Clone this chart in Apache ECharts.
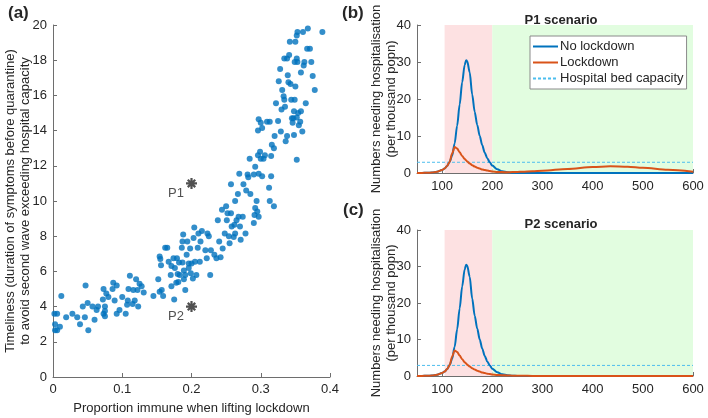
<!DOCTYPE html>
<html>
<head>
<meta charset="utf-8">
<script src="https://cdn.jsdelivr.net/npm/echarts@6.0.0/dist/echarts.min.js"></script>
<style>
  html, body { margin: 0; padding: 0; background: #fff; }
  #main { width: 708px; height: 418px; }
</style>
</head>
<body>
<div id="main"></div>
<script>
// panel (a): proportion immune vs timeliness
var immune = [
  0.002, 0.006, 0.003, 0.003, 0.006, 0.010, 0.012, 0.019, 0.028, 0.035, 0.039, 0.043, 0.046, 0.047, 0.050, 0.051, 0.057, 0.060, 0.063, 0.065,
  0.072, 0.073, 0.073, 0.075, 0.075, 0.075, 0.077, 0.080, 0.086, 0.087, 0.089, 0.092, 0.092, 0.096, 0.100, 0.105, 0.107, 0.109, 0.111, 0.108,
  0.115, 0.116, 0.118, 0.120, 0.122, 0.123, 0.125, 0.128, 0.131, 0.145,
  0.152, 0.154, 0.155, 0.156, 0.154, 0.157, 0.159, 0.162, 0.165, 0.167, 0.170, 0.171, 0.171, 0.174, 0.175, 0.176, 0.178, 0.179, 0.180, 0.181,
  0.182, 0.183, 0.186, 0.187, 0.187, 0.188, 0.189, 0.189, 0.191, 0.191, 0.193, 0.194, 0.196, 0.196, 0.198, 0.199, 0.200, 0.202, 0.203, 0.204,
  0.205, 0.207, 0.209, 0.210, 0.212, 0.213, 0.215, 0.220, 0.222, 0.223, 0.225, 0.227, 0.228, 0.233, 0.236, 0.238, 0.240, 0.242, 0.244, 0.245,
  0.248, 0.250, 0.251, 0.252, 0.254, 0.255, 0.257, 0.258, 0.261, 0.262, 0.263, 0.265, 0.268, 0.270, 0.271, 0.274, 0.278, 0.290, 0.291, 0.292,
  0.295, 0.297,
  0.257, 0.263, 0.267, 0.269, 0.275, 0.279, 0.281, 0.282, 0.284, 0.285, 0.290, 0.292, 0.294, 0.296, 0.297, 0.299, 0.300, 0.302, 0.304, 0.306,
  0.312, 0.313, 0.315, 0.315, 0.296, 0.297, 0.300, 0.302, 0.309, 0.313, 0.316, 0.319, 0.320, 0.322, 0.325, 0.326, 0.328, 0.329, 0.330, 0.331,
  0.333, 0.334, 0.334, 0.335, 0.336, 0.338, 0.338, 0.339, 0.341, 0.340, 0.342, 0.343, 0.344, 0.345, 0.346, 0.347, 0.348, 0.348, 0.349, 0.349,
  0.350, 0.350, 0.352, 0.352, 0.352, 0.352, 0.353, 0.353, 0.354, 0.355, 0.357, 0.358, 0.358, 0.360, 0.361, 0.362, 0.363, 0.365, 0.367, 0.368,
  0.371, 0.373, 0.375, 0.378, 0.389, 0.319
];
var timeliness = [
  3.6, 3.6, 3.0, 2.65, 2.65, 2.85, 4.6, 3.4, 3.6, 3.4, 3.0, 4.0, 3.4, 5.2, 4.2, 2.65, 4.0, 3.25, 3.8, 4.0,
  4.4, 5.0, 3.6, 4.0, 3.45, 3.75, 4.75, 4.55, 5.0, 5.35, 4.35, 5.2, 3.6, 3.8, 4.55, 3.6, 4.1, 5.0, 5.75, 4.35,
  4.15, 4.95, 4.35, 5.55, 4.95, 4.0, 5.3, 5.15, 4.8, 4.6,
  5.55, 6.85, 6.7, 6.35, 4.85, 4.95, 4.6, 7.35, 7.35, 6.55, 5.8, 6.3, 5.15, 6.75, 4.4, 6.2, 5.35, 6.75, 5.85, 5.4,
  6.5, 5.8, 7.35, 7.7, 6.5, 8.1, 6.05, 5.55, 4.95, 5.8, 6.95, 7.7, 6.2, 6.45, 7.3, 5.9, 6.45, 5.6, 7.9, 8.5,
  6.55, 5.8, 7.35, 8.15, 6.55, 7.7, 8.3, 7.2, 6.75, 8.15, 8.0, 5.8, 7.2, 6.95, 6.75, 8.9, 7.7, 6.8, 9.5, 7.3,
  8.15, 9.7, 8.9, 9.3, 8.0, 7.6, 9.3, 8.55, 7.95, 8.65, 8.15, 8.9, 9.1, 8.55, 7.8, 9.1, 8.15, 8.75, 9.2, 9.6,
  9.4, 9.1,
  10.95, 10.0, 10.4, 11.55, 10.95, 10.6, 11.5, 11.35, 12.4, 10.4, 11.5, 11.95, 10.0, 12.6, 11.55, 12.8, 12.4, 11.4, 12.4, 12.6,
  10.75, 10.0, 11.4, 12.55, 14.0, 14.65, 14.45, 14.15, 14.5, 14.5, 13.2, 13.0, 13.7, 15.55, 14.55, 16.8, 17.5, 13.95, 15.2, 16.3,
  15.95, 18.1, 15.75, 15.35, 13.4, 13.7, 18.1, 17.15, 18.3, 16.75, 19.05, 16.65, 15.75, 14.7, 14.45, 14.7, 13.75, 15.1, 15.75, 17.9,
  16.5, 19.05, 19.4, 18.1, 12.35, 14.75, 19.6, 17.9, 15.0, 14.3, 14.5, 17.3, 15.1, 13.95, 19.6, 17.7, 17.9, 15.55, 18.65, 19.8,
  18.65, 17.9, 17.1, 16.3, 19.6, 9.7
];
var scenarioNames = ["P1", "P2"];
var scenarioImmune = [0.2, 0.2];
var scenarioTimeliness = [11, 4];

// panels (b) and (c): hospitalisation curves
var days = [50, 60, 70, 80, 90, 100, 105, 110, 115, 120, 125, 130, 135, 140, 145, 148, 150, 155, 160, 165,
  170, 175, 180, 185, 190, 195, 200, 210, 220, 230, 240, 250, 260, 280, 300, 350, 400, 435, 470, 500, 550, 600];
var noLockdown = [0, 0.02, 0.05, 0.12, 0.35, 0.8, 1.2, 1.9, 3.0, 4.7, 8.0, 12.8, 18.5, 24.5, 29.2, 30.5, 30.3, 27.2, 21.2, 16.5,
  13.0, 10.0, 7.5, 5.5, 4.0, 2.9, 2.0, 1.0, 0.45, 0.2, 0.08, 0.03, 0.01, 0, 0, 0, 0, 0, 0, 0, 0, 0];
var lockdownP1 = [0, 0.02, 0.05, 0.12, 0.35, 0.8, 1.2, 1.9, 3.0, 5.3, 7.0, 6.6, 5.6, 4.6, 3.8, 3.4, 3.1, 2.6, 2.1, 1.75,
  1.45, 1.2, 0.95, 0.8, 0.65, 0.52, 0.42, 0.3, 0.24, 0.22, 0.24, 0.28, 0.33, 0.45, 0.6, 1.1, 1.6, 1.8, 1.7, 1.4, 0.85, 0.35];
var lockdownP2 = [0, 0.02, 0.05, 0.12, 0.35, 0.8, 1.2, 1.9, 3.0, 5.3, 7.0, 6.6, 5.6, 4.6, 3.8, 3.4, 3.1, 2.6, 2.1, 1.75,
  1.45, 1.2, 0.95, 0.8, 0.65, 0.52, 0.42, 0.3, 0.2, 0.15, 0.1, 0.07, 0.05, 0.03, 0.02, 0.01, 0, 0, 0, 0, 0, 0];
var bedCapacity = 2.9;
var lockdownStart = 105;
var lockdownEnd = 200;
var dayEnd = 600;
var dayTicks = [100, 200, 300, 400, 500, 600];

var FONT = "Liberation Sans, Arial, sans-serif";
var TXT = "#262626";
var AXC = "#6e6e6e";
var BLUE = "#0072BD";
var ORANGE = "#D95319";
var CYAN = "#4DBEEE";

function pairs(xs, ys) {
  return xs.map(function (x, i) { return [x, ys[i]]; });
}

function baseAxis(extra) {
  var a = {
    axisLine: { show: true, onZero: false, lineStyle: { color: AXC, width: 1 } },
    axisTick: { show: true, inside: true, length: 4, lineStyle: { color: AXC } },
    axisLabel: { color: TXT, fontSize: 13, fontFamily: FONT, margin: 6 },
    splitLine: { show: false },
    nameMoveOverlap: false,
    nameTextStyle: { color: TXT, fontSize: 13, fontFamily: FONT, lineHeight: 15 }
  };
  for (var k in extra) a[k] = extra[k];
  return a;
}

function shading() {
  return {
    silent: true,
    data: [
      [{ xAxis: lockdownStart, itemStyle: { color: "#fde1e2" } }, { xAxis: lockdownEnd }],
      [{ xAxis: lockdownEnd, itemStyle: { color: "#e2fde0" } }, { xAxis: dayEnd }]
    ]
  };
}

function curveSeries(idx, lock) {
  var s = [
    {
      name: "No lockdown", type: "line", xAxisIndex: idx, yAxisIndex: idx,
      data: pairs(days, noLockdown), showSymbol: false, symbol: "none",
      smooth: 0.3, smoothMonotone: "x",
      lineStyle: { color: BLUE, width: 2 }, itemStyle: { color: BLUE }, z: 3
    },
    {
      name: "Lockdown", type: "line", xAxisIndex: idx, yAxisIndex: idx,
      data: pairs(days, lock), showSymbol: false, symbol: "none",
      smooth: 0.3, smoothMonotone: "x",
      lineStyle: { color: ORANGE, width: 2 }, itemStyle: { color: ORANGE }, z: 4
    },
    {
      name: "Hospital bed capacity", type: "line", xAxisIndex: idx, yAxisIndex: idx,
      data: [[days[0], bedCapacity], [dayEnd, bedCapacity]], showSymbol: false, symbol: "none",
      lineStyle: { color: CYAN, width: 1, type: [3, 2] }, itemStyle: { color: CYAN }, z: 2
    }
  ];
  s[0].markArea = shading();
  return s;
}

var option = {
  animation: false,
  backgroundColor: "#fff",
  textStyle: { fontFamily: FONT },
  title: [
    { text: "(a)", left: 3, top: 0, textStyle: { fontSize: 17, fontWeight: "bold", color: TXT, fontFamily: FONT } },
    { text: "(b)", left: 337, top: 0, textStyle: { fontSize: 17, fontWeight: "bold", color: TXT, fontFamily: FONT } },
    { text: "(c)", left: 338, top: 197, textStyle: { fontSize: 17, fontWeight: "bold", color: TXT, fontFamily: FONT } },
    { text: "P1 scenario", left: 556, top: 9, textAlign: "center", textStyle: { fontSize: 13, fontWeight: "bold", color: TXT, fontFamily: FONT } },
    { text: "P2 scenario", left: 556, top: 213, textAlign: "center", textStyle: { fontSize: 13, fontWeight: "bold", color: TXT, fontFamily: FONT } }
  ],
  legend: {
    data: ["No lockdown", "Lockdown", "Hospital bed capacity"],
    orient: "vertical",
    left: 530, top: 36,
    backgroundColor: "#fff",
    borderColor: "#8a8a8a", borderWidth: 1, borderRadius: 0,
    padding: [4, 3, 4, 2],
    itemGap: 3, itemWidth: 25, itemHeight: 14,
    selectedMode: false,
    itemStyle: { opacity: 0 },
    textStyle: { color: TXT, fontSize: 13, fontFamily: FONT, padding: [0, 0, 0, -3] }
  },
  grid: [
    { left: 53, top: 25, width: 277, height: 352, outerBoundsMode: "none" },
    { left: 417, top: 25, width: 276, height: 148, outerBoundsMode: "none" },
    { left: 417, top: 230, width: 276, height: 146, outerBoundsMode: "none" }
  ],
  xAxis: [
    baseAxis({ gridIndex: 0, type: "value", min: 0, max: 0.4, interval: 0.1,
      name: "Proportion immune when lifting lockdown", nameLocation: "middle", nameGap: 24 }),
    baseAxis({ gridIndex: 1, type: "value", min: 50, max: 600,
      axisTick: { show: true, inside: true, length: 4, lineStyle: { color: AXC }, customValues: dayTicks },
      axisLabel: { color: TXT, fontSize: 13, fontFamily: FONT, margin: 7, customValues: dayTicks } }),
    baseAxis({ gridIndex: 2, type: "value", min: 50, max: 600,
      axisTick: { show: true, inside: true, length: 4, lineStyle: { color: AXC }, customValues: dayTicks },
      axisLabel: { color: TXT, fontSize: 13, fontFamily: FONT, margin: 7, customValues: dayTicks } })
  ],
  yAxis: [
    baseAxis({ gridIndex: 0, type: "value", min: 0, max: 20, interval: 2,
      name: "Timeliness (duration of symptoms before quarantine)\nto avoid second wave exceeding hospital capacity",
      nameLocation: "middle", nameGap: 20 }),
    baseAxis({ gridIndex: 1, type: "value", min: 0, max: 40, interval: 10,
      name: "Numbers needing hospitalisation\n(per thousand popn)", nameLocation: "middle", nameGap: 18 }),
    baseAxis({ gridIndex: 2, type: "value", min: 0, max: 40, interval: 10,
      name: "Numbers needing hospitalisation\n(per thousand popn)", nameLocation: "middle", nameGap: 18 })
  ],
  series: [
    {
      type: "scatter", xAxisIndex: 0, yAxisIndex: 0,
      data: pairs(immune, timeliness),
      symbol: "circle", symbolSize: 6,
      itemStyle: { color: BLUE }, z: 3
    },
    {
      type: "scatter", xAxisIndex: 0, yAxisIndex: 0,
      data: scenarioNames.map(function (n, i) { return { name: n, value: [scenarioImmune[i], scenarioTimeliness[i]] }; }),
      symbol: "path://M5,0L5,10M0,5L10,5M1.6,1.6L8.4,8.4M1.6,8.4L8.4,1.6",
      symbolSize: 11,
      itemStyle: { color: "transparent", borderColor: "#262626", borderWidth: 2.2 },
      label: { show: true, formatter: "{b}", position: "left", distance: 1, offset: [0, 10],
        color: TXT, fontSize: 13, fontFamily: FONT },
      z: 4
    }
  ].concat(curveSeries(1, lockdownP1)).concat(curveSeries(2, lockdownP2))
};

var myChart = echarts.init(document.getElementById("main"));
myChart.setOption(option);
</script>
</body>
</html>
